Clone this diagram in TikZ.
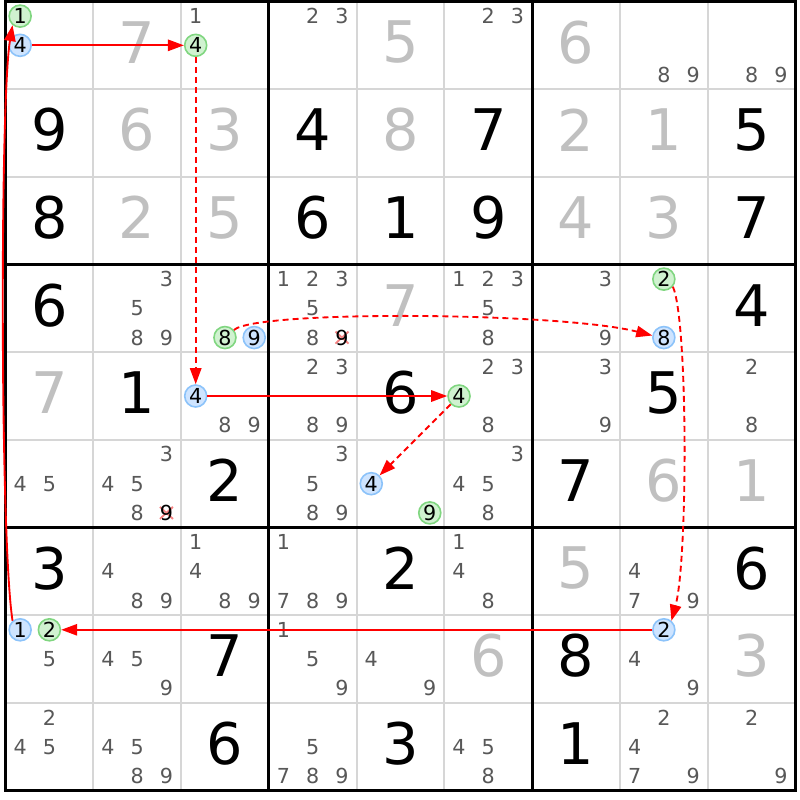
\documentclass[tikz,border=0pt]{standalone}
\usepackage{fontspec}
\setmainfont{DejaVu Sans}
\usetikzlibrary{arrows.meta}
\definecolor{thinc}{RGB}{214,214,214}
\definecolor{solv}{RGB}{192,192,192}
\definecolor{cgray}{RGB}{88,88,88}
\definecolor{gfill}{RGB}{208,242,208}
\definecolor{gline}{RGB}{128,214,128}
\definecolor{bfill}{RGB}{206,228,255}
\definecolor{bline}{RGB}{140,195,250}
\definecolor{lnk}{RGB}{255,0,0}
\definecolor{xcol}{RGB}{245,130,130}
\tikzset{
 bigd/.style={font=\fontsize{43}{43}\selectfont, inner sep=0pt},
 given/.style={bigd, text=black},
 solved/.style={bigd, text=solv},
 cand/.style={font=\fontsize{15.5}{15.5}\selectfont, text=cgray, inner sep=0pt},
 ccirc/.style={circle, minimum size=16.5pt, inner sep=0pt, line width=1.2pt, font=\fontsize{15.5}{15.5}\selectfont, text=black},
 gc/.style={ccirc, draw=gline, fill=gfill},
 bc/.style={ccirc, draw=bline, fill=bfill},
 thinl/.style={draw=thinc, line width=1.5pt},
 thickl/.style={draw=black, line width=2.25pt},
 outerl/.style={draw=black, line width=2.6pt},
 strong/.style={draw=lnk, line width=1.4pt, -{Triangle[length=12pt,width=8.5pt]}},
 weak/.style={strong, dash pattern=on 4.5pt off 3pt},
 xmark/.style={draw=xcol, line width=1.4pt},
}
% big digit: style, row, col, digit
\newcommand\Dig[4]{\node[#1] (d#2#3) at ({5.5+(#3-0.5)*87.78},{1.5+(#2-0.5)*87.67-3}) {#4};}
% candidates: row, col, list
\newcommand\Cands[3]{\foreach \d in {#3}{\node[cand] (k#1#2\d) at ({5.5+(#2-1)*87.78+(mod(\d-1,3)+0.5)*29.26},{1.5+(#1-1)*87.67+(floor((\d-1)/3)+0.5)*29.22}) {\d};}}
% circled candidate: style, row, col, digit
\newcommand\Circ[4]{\node[#1] (c#2#3n#4) at ({5.5+(#3-1)*87.78+(mod(#4-1,3)+0.5)*29.26},{1.5+(#2-1)*87.67+(floor((#4-1)/3)+0.5)*29.22}) {#4};}
% crossed candidate: row, col, digit
\newcommand\Xc[3]{\coordinate (x#1#2n#3) at ({5.5+(#2-1)*87.78+(mod(#3-1,3)+0.5)*29.26},{1.5+(#1-1)*87.67+(floor((#3-1)/3)+0.5)*29.22});
 \draw[xmark] ([shift={(-6.5,-6)}]x#1#2n#3) -- ([shift={(6.5,6)}]x#1#2n#3);
 \draw[xmark] ([shift={(-6.5,6)}]x#1#2n#3) -- ([shift={(6.5,-6)}]x#1#2n#3);
 \node[cand, text=black] (k#1#2n#3) at (x#1#2n#3) {#3};}

\begin{document}
\begin{tikzpicture}[x=0.75pt,y=-0.75pt]
\fill[white] (0,0) rectangle (800,800);
\useasboundingbox (0,0) rectangle (800,800);
% grid
\foreach \i in {1,2,4,5,7,8}{
 \draw[thinl] ({5.5+\i*87.78},1.5) -- ({5.5+\i*87.78},790.5);
 \draw[thinl] (5.5,{1.5+\i*87.67}) -- (795.5,{1.5+\i*87.67});
}
\foreach \i in {3,6}{
 \draw[thickl] ({5.5+\i*87.78},1.5) -- ({5.5+\i*87.78},790.5);
 \draw[thickl] (5.5,{1.5+\i*87.67}) -- (795.5,{1.5+\i*87.67});
}
\draw[outerl] (5.5,1.5) rectangle (795.5,790.5);

% row 1
\Circ{gc}{1}{1}{1}\Circ{bc}{1}{1}{4}
\Dig{solved}{1}{2}{7}
\Cands{1}{3}{1}\Circ{gc}{1}{3}{4}
\Cands{1}{4}{2,3}
\Dig{solved}{1}{5}{5}
\Cands{1}{6}{2,3}
\Dig{solved}{1}{7}{6}
\Cands{1}{8}{8,9}
\Cands{1}{9}{8,9}
% row 2
\Dig{given}{2}{1}{9}\Dig{solved}{2}{2}{6}\Dig{solved}{2}{3}{3}
\Dig{given}{2}{4}{4}\Dig{solved}{2}{5}{8}\Dig{given}{2}{6}{7}
\Dig{solved}{2}{7}{2}\Dig{solved}{2}{8}{1}\Dig{given}{2}{9}{5}
% row 3
\Dig{given}{3}{1}{8}\Dig{solved}{3}{2}{2}\Dig{solved}{3}{3}{5}
\Dig{given}{3}{4}{6}\Dig{given}{3}{5}{1}\Dig{given}{3}{6}{9}
\Dig{solved}{3}{7}{4}\Dig{solved}{3}{8}{3}\Dig{given}{3}{9}{7}
% row 4
\Dig{given}{4}{1}{6}
\Cands{4}{2}{3,5,8,9}
\Circ{gc}{4}{3}{8}\Circ{bc}{4}{3}{9}
\Cands{4}{4}{1,2,3,5,8}\Xc{4}{4}{9}
\Dig{solved}{4}{5}{7}
\Cands{4}{6}{1,2,3,5,8}
\Cands{4}{7}{3,9}
\Circ{gc}{4}{8}{2}\Circ{bc}{4}{8}{8}
\Dig{given}{4}{9}{4}
% row 5
\Dig{solved}{5}{1}{7}
\Dig{given}{5}{2}{1}
\Circ{bc}{5}{3}{4}\Cands{5}{3}{8,9}
\Cands{5}{4}{2,3,8,9}
\Dig{given}{5}{5}{6}
\Cands{5}{6}{2,3,8}\Circ{gc}{5}{6}{4}
\Cands{5}{7}{3,9}
\Dig{given}{5}{8}{5}
\Cands{5}{9}{2,8}
% row 6
\Cands{6}{1}{4,5}
\Cands{6}{2}{3,4,5,8}\Xc{6}{2}{9}
\Dig{given}{6}{3}{2}
\Cands{6}{4}{3,5,8,9}
\Circ{bc}{6}{5}{4}\Circ{gc}{6}{5}{9}
\Cands{6}{6}{3,4,5,8}
\Dig{given}{6}{7}{7}
\Dig{solved}{6}{8}{6}
\Dig{solved}{6}{9}{1}
% row 7
\Dig{given}{7}{1}{3}
\Cands{7}{2}{4,8,9}
\Cands{7}{3}{1,4,8,9}
\Cands{7}{4}{1,7,8,9}
\Dig{given}{7}{5}{2}
\Cands{7}{6}{1,4,8}
\Dig{solved}{7}{7}{5}
\Cands{7}{8}{4,7,9}
\Dig{given}{7}{9}{6}
% row 8
\Circ{bc}{8}{1}{1}\Circ{gc}{8}{1}{2}\Cands{8}{1}{5}
\Cands{8}{2}{4,5,9}
\Dig{given}{8}{3}{7}
\Cands{8}{4}{1,5,9}
\Cands{8}{5}{4,9}
\Dig{solved}{8}{6}{6}
\Dig{given}{8}{7}{8}
\Circ{bc}{8}{8}{2}\Cands{8}{8}{4,9}
\Dig{solved}{8}{9}{3}
% row 9
\Cands{9}{1}{2,4,5}
\Cands{9}{2}{4,5,8,9}
\Dig{given}{9}{3}{6}
\Cands{9}{4}{5,7,8,9}
\Dig{given}{9}{5}{3}
\Cands{9}{6}{4,5,8}
\Dig{given}{9}{7}{1}
\Cands{9}{8}{2,4,7,9}
\Cands{9}{9}{2,9}

% links
\draw[strong] (c11n4) -- (c13n4);
\draw[weak] (c13n4) -- (c53n4);
\draw[strong] (c53n4) -- (c56n4);
\draw[weak] (c56n4) -- (c65n4);
\draw[weak] (c43n8.40) .. controls (255,310) and (560,312) .. (c48n8.170);
\draw[weak] (c48n2.-40) .. controls (688,320) and (688,560) .. (c88n2.50);
\draw[strong] (c88n2) -- (c81n2);
\draw[strong] (c81n1.130) .. controls (0,540) and (0,100) .. (c11n1.230);
\end{tikzpicture}
\end{document}
